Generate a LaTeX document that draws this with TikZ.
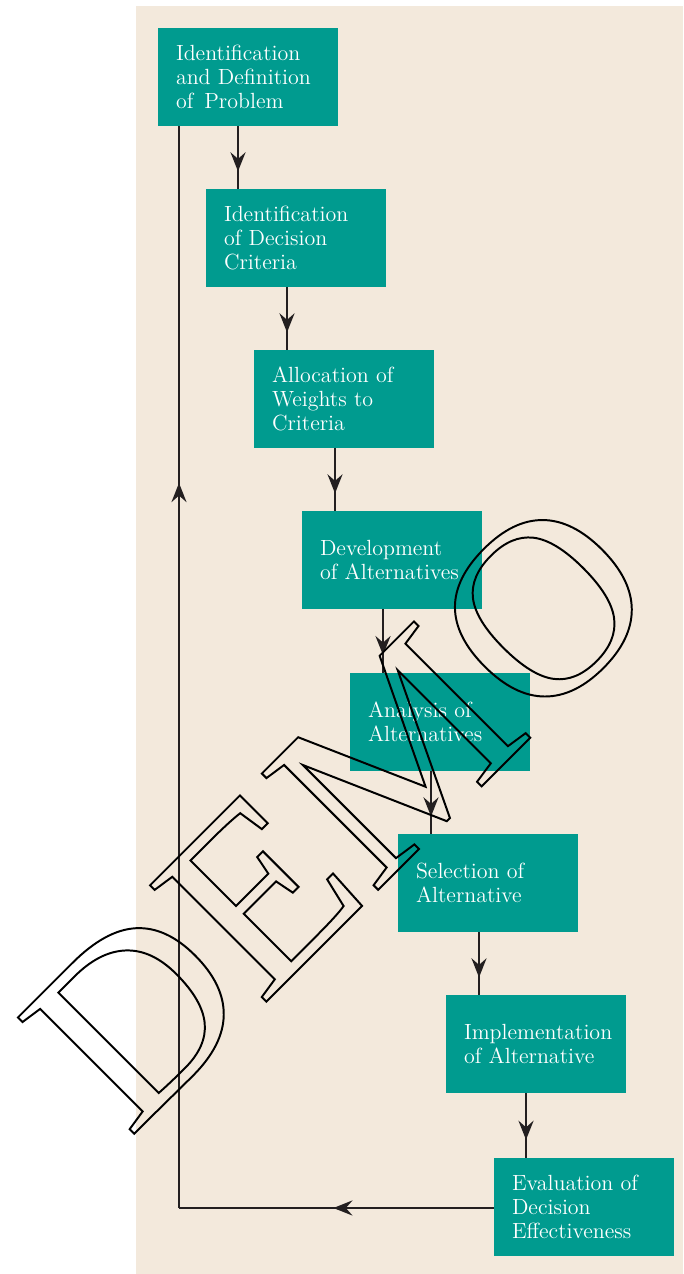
\documentclass[tikz,border=0pt]{standalone}
\usepackage{fontspec}
\usetikzlibrary{arrows.meta,decorations.markings}
\newfontfamily\demofont{Liberation Serif}
\definecolor{boxteal}{RGB}{0,155,143}
\definecolor{paper}{RGB}{243,233,220}
\definecolor{ink}{RGB}{35,31,32}
\newcommand\outlined[1]{\special{pdf:literal direct 1 Tr 1.1 w}#1\special{pdf:literal direct 0 Tr}}
\begin{document}
\begin{tikzpicture}[x=0.02cm,y=-0.02cm,
  every node/.style={outer sep=0pt},
  stepbox/.style={fill=boxteal, text=white, minimum width=3.6cm, minimum height=1.96cm,
    text width=2.88cm, inner xsep=0.36cm, align=left, font=\fontsize{12.5}{13.8}\selectfont},
  flow/.style={draw=ink, line width=1.6pt},
  midarrow/.style={flow, postaction={decorate}, decoration={markings,
    mark=at position #1 with {\arrow{Stealth[length=0.38cm,width=0.3cm,inset=0.13cm]}}}}]
\useasboundingbox (0,0) rectangle (683,1274);
\fill[paper] (136,6) rectangle (683,1274);
% the eight steps
\node[stepbox] (problem) at (248,77) {Identification\\and Definition\\of\enspace Problem};
\node[stepbox] (criteria) at (296,238) {Identification\\of Decision\\Criteria};
\node[stepbox] (weights) at (344,399) {Allocation of\\Weights to\\Criteria};
\node[stepbox] (develop) at (392,560) {Development\\of Alternatives};
\node[stepbox] (analysis) at (440,722) {Analysis of\\Alternatives};
\node[stepbox] (select) at (488,883) {Selection of\\Alternative};
\node[stepbox] (implement) at (536,1044) {Implementation\\of Alternative};
\node[stepbox] (evaluate) at (584,1207) {Evaluation of\\Decision\\Effectiveness};
% downward arrows
\draw[midarrow=0.72] (problem.south west) ++(80,0) coordinate (p1) -- (p1 |- criteria.north);
\draw[midarrow=0.72] (criteria.south west) ++(81,0) coordinate (p2) -- (p2 |- weights.north);
\draw[midarrow=0.72] (weights.south west) ++(81,0) coordinate (p3) -- (p3 |- develop.north);
\draw[midarrow=0.72] (develop.south west) ++(81,0) coordinate (p4) -- (p4 |- analysis.north);
\draw[midarrow=0.72] (analysis.south west) ++(81,0) coordinate (p5) -- (p5 |- select.north);
\draw[midarrow=0.72] (select.south west) ++(81,0) coordinate (p6) -- (p6 |- implement.north);
\draw[midarrow=0.72] (implement.south west) ++(80,0) coordinate (p7) -- (p7 |- evaluate.north);
% feedback loop
\coordinate (corner) at (179,1208);
\draw[midarrow=0.51] (evaluate.west |- corner) -- (corner);
\draw[midarrow=0.67] (corner) -- (corner |- problem.south);
% watermark
\node[rotate=45, xscale=1.03, inner sep=0pt, anchor=base west] (demo) at (129,1139)
  {\demofont\fontsize{143}{143}\selectfont\outlined{DEMO}};
\end{tikzpicture}
\end{document}
